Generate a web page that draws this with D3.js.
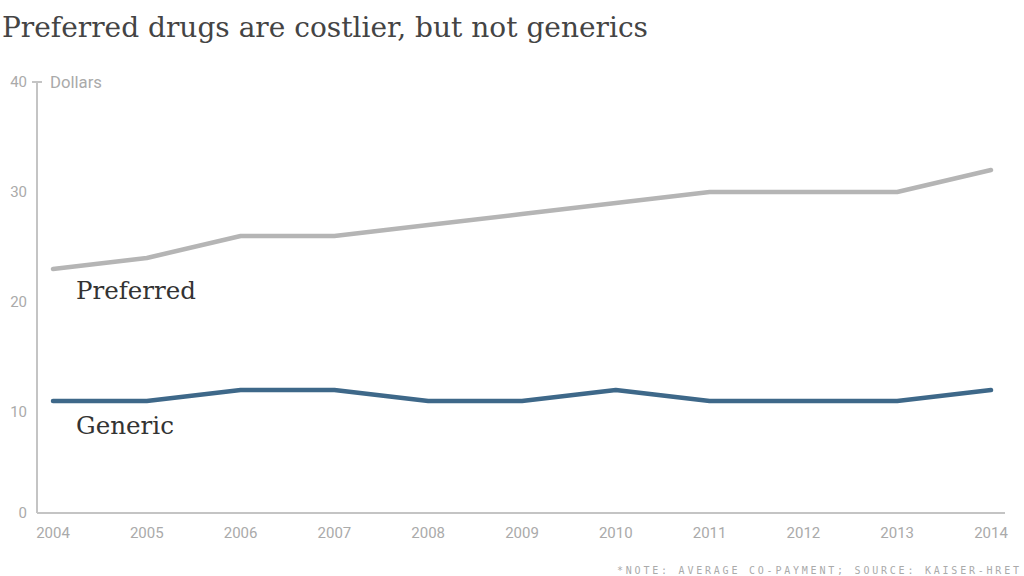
<!DOCTYPE html>
<html><head><meta charset="utf-8">
<script src="https://cdn.jsdelivr.net/npm/d3@7"></script>
<style>body{margin:0;background:#fff;} svg{display:block;}</style>
</head><body>
<script>
const years = [2004,2005,2006,2007,2008,2009,2010,2011,2012,2013,2014];
const preferred = [23,24,26,26,27,28,29,30,30,30,32];
const generic = [11,11,12,12,11,11,12,11,11,11,12];
const yTicks = [0,10,20,30,40];
const title = "Preferred drugs are costlier, but not generics";
const note = "*NOTE: AVERAGE CO-PAYMENT; SOURCE: KAISER-HRET";

const W=1024,H=576;
const svg=d3.select("body").append("svg").attr("width",W).attr("height",H);
const x=d3.scaleLinear().domain([2004,2014]).range([53,991]);
const y=d3.scaleLinear().domain([0,40]).range([522,82]);
const axisX=37, baseY=513;
const tickFont='"Liberation Sans Narrow","Roboto",sans-serif';

svg.append("text").attr("x",2).attr("y",37).text(title)
  .attr("font-family",'"DejaVu Serif","Liberation Serif",serif').attr("font-size",27)
  .attr("fill","#444").attr("textLength",646).attr("lengthAdjust","spacingAndGlyphs");

// axes
svg.append("line").attr("x1",axisX).attr("x2",axisX).attr("y1",y(40)).attr("y2",baseY).attr("stroke","#c4c4c4").attr("stroke-width",2);
svg.append("line").attr("x1",axisX-5).attr("x2",axisX+5).attr("y1",y(40)).attr("y2",y(40)).attr("stroke","#c4c4c4").attr("stroke-width",2);
svg.append("line").attr("x1",axisX).attr("x2",1005).attr("y1",baseY).attr("y2",baseY).attr("stroke","#c4c4c4").attr("stroke-width",2);

svg.selectAll("text.yt").data(yTicks).join("text").attr("class","yt")
  .attr("x",27).attr("y",d=>Math.min(y(d),baseY)).attr("dy","0.36em").attr("text-anchor","end")
  .attr("font-family",tickFont).attr("font-size",15).attr("fill","#aaa").text(d=>d);
svg.append("text").attr("x",50).attr("y",y(40)).attr("dy","0.36em")
  .attr("font-family",tickFont).attr("font-size",16).attr("fill","#aaa").text("Dollars")
  .attr("textLength",52).attr("lengthAdjust","spacingAndGlyphs");

svg.selectAll("text.xt").data(years).join("text").attr("class","xt")
  .attr("x",d=>x(d)).attr("y",538).attr("text-anchor","middle")
  .attr("font-family",tickFont).attr("font-size",15).attr("fill","#aaa").text(d=>d);

const line=d3.line().x((d,i)=>x(years[i])).y(d=>y(d));
svg.append("path").datum(preferred).attr("d",line).attr("fill","none").attr("stroke","#b5b5b5").attr("stroke-width",4.5).attr("stroke-linejoin","round").attr("stroke-linecap","round");
svg.append("path").datum(generic).attr("d",line).attr("fill","none").attr("stroke","#3e6889").attr("stroke-width",4.5).attr("stroke-linejoin","round").attr("stroke-linecap","round");

const lf='"DejaVu Serif","Liberation Serif",serif';
svg.append("text").attr("x",76).attr("y",299).text("Preferred").attr("font-family",lf).attr("font-size",24).attr("fill","#333").attr("textLength",120).attr("lengthAdjust","spacingAndGlyphs");
svg.append("text").attr("x",76).attr("y",434).text("Generic").attr("font-family",lf).attr("font-size",24).attr("fill","#333").attr("textLength",98).attr("lengthAdjust","spacingAndGlyphs");

svg.append("text").attr("x",617).attr("y",574).text(note).attr("font-family",'"DejaVu Sans Mono",monospace').attr("font-size",10)
  .attr("fill","#aaa").attr("textLength",402).attr("lengthAdjust","spacing");
</script>
</body></html>
